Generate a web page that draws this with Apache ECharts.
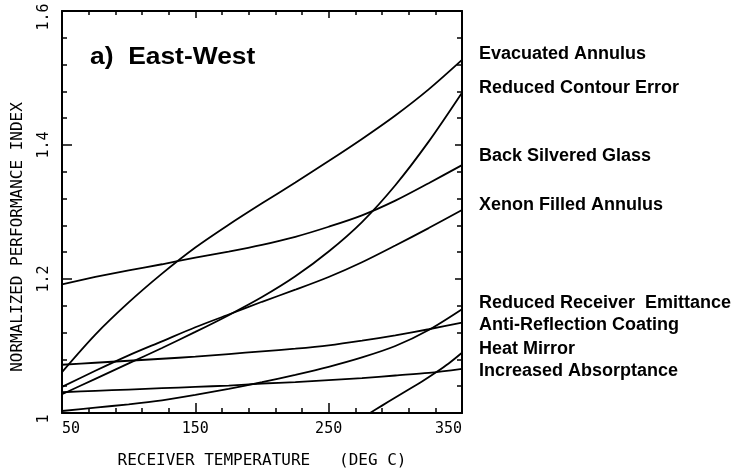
<!DOCTYPE html>
<html>
<head>
<meta charset="utf-8">
<script src="https://cdn.jsdelivr.net/npm/echarts@6/dist/echarts.min.js"></script>
<style>
  html, body { margin: 0; padding: 0; background: #fff; }
  #chart { width: 744px; height: 474px; }
</style>
</head>
<body>
<div id="chart"></div>
<script>
// ---- data ----
const temps = [50, 75, 100, 125, 150, 175, 200, 225, 250, 275, 300, 325, 350];
const evacuatedAnnulus      = [1.061, 1.117, 1.165, 1.208, 1.247, 1.281, 1.313, 1.344, 1.376, 1.409, 1.444, 1.483, 1.527];
const reducedContourError   = [1.028, 1.051, 1.074, 1.097, 1.121, 1.146, 1.173, 1.204, 1.241, 1.285, 1.340, 1.405, 1.478];
const backSilveredGlass     = [1.192, 1.203, 1.213, 1.222, 1.232, 1.241, 1.251, 1.263, 1.278, 1.295, 1.317, 1.343, 1.370];
const xenonFilledAnnulus    = [1.039, 1.063, 1.086, 1.107, 1.128, 1.147, 1.166, 1.184, 1.203, 1.225, 1.250, 1.276, 1.303];
const reducedReceiverEmit   = [1.003, 1.008, 1.013, 1.019, 1.027, 1.036, 1.046, 1.057, 1.069, 1.083, 1.100, 1.124, 1.155];
const antiReflection        = [1.072, 1.075, 1.078, 1.081, 1.084, 1.088, 1.092, 1.096, 1.101, 1.108, 1.116, 1.125, 1.135];
const increasedAbsorptance  = [1.031, 1.033, 1.035, 1.037, 1.039, 1.041, 1.044, 1.046, 1.049, 1.052, 1.056, 1.060, 1.066];
const heatMirrorTemps       = [281, 290, 300, 310, 320, 330, 340, 350];
const heatMirror            = [1.000, 1.011, 1.023, 1.035, 1.047, 1.060, 1.074, 1.090];

const seriesNames = [
  'Evacuated Annulus', 'Reduced Contour Error', 'Back Silvered Glass', 'Xenon Filled Annulus',
  'Reduced Receiver  Emittance', 'Anti-Reflection Coating', 'Heat Mirror', 'Increased Absorptance'
];
const labelTops = [45, 79, 147, 196, 294, 316, 340, 362];

const xTickLabels = ['50', '150', '250', '350'];
const titleText = 'a)  East-West';
const xAxisName = 'RECEIVER TEMPERATURE   (DEG C)';
const yAxisName = 'NORMALIZED PERFORMANCE INDEX';

// ---- build ----
function pairs(xs, ys) { return xs.map((x, i) => [x, ys[i]]); }
const seriesData = [
  pairs(temps, evacuatedAnnulus),
  pairs(temps, reducedContourError),
  pairs(temps, backSilveredGlass),
  pairs(temps, xenonFilledAnnulus),
  pairs(temps, reducedReceiverEmit),
  pairs(temps, antiReflection),
  pairs(heatMirrorTemps, heatMirror),
  pairs(temps, increasedAbsorptance)
];

const mono = 'DejaVu Sans Mono';
const chart = echarts.init(document.getElementById('chart'), null, { renderer: 'canvas' });

const axisLineStyle = { color: '#000', width: 2 };

const option = {
  backgroundColor: '#fff',
  animation: false,
  grid: { left: 62, right: 282, top: 11, bottom: 61, containLabel: false, outerBoundsMode: 'none' },
  xAxis: [
    {
      type: 'value', position: 'bottom', min: 50, max: 350, interval: 100,
      axisLine: { show: true, lineStyle: axisLineStyle },
      axisTick: { show: true, inside: true, length: 10, lineStyle: { color: '#000', width: 1.5 } },
      minorTick: { show: true, splitNumber: 5, length: 5, lineStyle: { color: '#000', width: 1.5 } },
      splitLine: { show: false },
      axisLabel: {
        show: true, margin: 9, color: '#000', fontFamily: mono, fontSize: 15,
        alignMinLabel: 'left', alignMaxLabel: 'right',
        formatter: function (v) { const i = [50, 150, 250, 350].indexOf(v); return i >= 0 ? xTickLabels[i] : ''; }
      },
      name: xAxisName, nameLocation: 'middle', nameGap: 40,
      nameTextStyle: { color: '#000', fontFamily: mono, fontSize: 16 }
    },
    {
      type: 'value', position: 'top', min: 50, max: 350, interval: 100,
      axisLine: { show: true, lineStyle: axisLineStyle },
      axisTick: { show: true, inside: true, length: 7, lineStyle: { color: '#000', width: 1.5 } },
      minorTick: { show: true, splitNumber: 5, length: 4, lineStyle: { color: '#000', width: 1.5 } },
      splitLine: { show: false }, axisLabel: { show: false }
    }
  ],
  yAxis: [
    {
      type: 'value', position: 'left', min: 1, max: 1.6, interval: 0.2,
      axisLine: { show: true, lineStyle: axisLineStyle },
      axisTick: { show: true, inside: true, length: 10, lineStyle: { color: '#000', width: 1.5 } },
      minorTick: { show: true, splitNumber: 5, length: 5, lineStyle: { color: '#000', width: 1.5 } },
      splitLine: { show: false },
      axisLabel: {
        show: true, rotate: 90, margin: 10, color: '#000', fontFamily: mono, fontSize: 15,
        formatter: function (v) {
          if (v === 1) return '{low|1}';
          if (Math.abs(v - 1.6) < 1e-9) return '{low|1.6}';
          return v.toFixed(1);
        },
        rich: { low: { fontFamily: mono, fontSize: 15, color: '#000', padding: [0, 12, 0, 0] } }
      },
      name: yAxisName, nameLocation: 'middle', nameGap: 36, nameRotate: 90,
      nameTextStyle: { color: '#000', fontFamily: mono, fontSize: 16, padding: [0, 50, 0, 0] }
    },
    {
      type: 'value', position: 'right', min: 1, max: 1.6, interval: 0.2,
      axisLine: { show: true, lineStyle: axisLineStyle },
      axisTick: { show: true, inside: true, length: 7, lineStyle: { color: '#000', width: 1.5 } },
      minorTick: { show: true, splitNumber: 5, length: 5, lineStyle: { color: '#000', width: 1.5 } },
      splitLine: { show: false }, axisLabel: { show: false }
    }
  ],
  series: seriesData.map((d, i) => ({
    name: seriesNames[i], type: 'line', xAxisIndex: 0, yAxisIndex: 0,
    data: d, smooth: 0.3, showSymbol: false, symbol: 'none', clip: true,
    lineStyle: { color: '#000', width: 1.8 }
  })),
  graphic: [
    {
      type: 'text', left: 90, top: 45, scaleX: 1.1,
      style: { text: titleText, fill: '#000', font: 'bold 24px "Liberation Sans", Arial, sans-serif' }
    }
  ].concat(seriesNames.map((n, i) => ({
    type: 'text', left: 479, top: labelTops[i],
    style: { text: n, fill: '#000', font: 'bold 18px "Liberation Sans", Arial, sans-serif' }
  })))
};
chart.setOption(option);
</script>
</body>
</html>
